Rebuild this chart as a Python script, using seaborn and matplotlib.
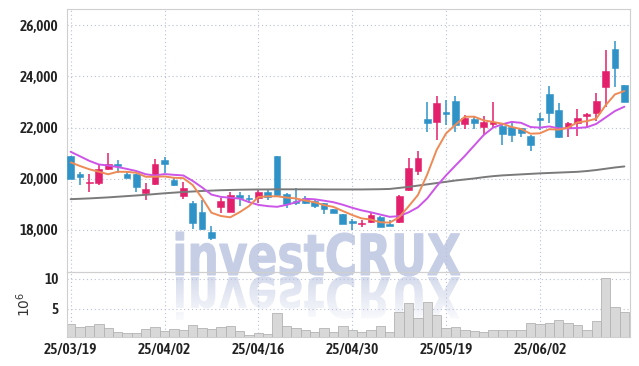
import numpy as np
import pandas as pd
import matplotlib
matplotlib.use("Agg")
import matplotlib.pyplot as plt
import seaborn as sns
from matplotlib import font_manager
from matplotlib.textpath import TextPath
from matplotlib.patches import PathPatch
from matplotlib.font_manager import FontProperties
from matplotlib.transforms import Affine2D
from matplotlib.colors import to_rgb
from matplotlib.ticker import FuncFormatter

# ---- data ----
tick_pos = [0, 10, 20, 30, 40, 50]
tick_labels = ["25/03/19", "25/04/02", "25/04/16", "25/04/30", "25/05/19", "25/06/02"]

open_ = [20880, 20180, 19850, 19850, 20370, 20570, 20200, 20180, 19430, 19780,
         20730, 19950, 19320, 19040, 18710, 17920, 18900, 18710, 19360, 19240,
         19250, 19480, 20880, 19400, 19140, 19230, 19140, 19040, 18800, 18620,
         18340, 18240, 18320, 18490, 18230, 18320, 19540, 20310, 22320, 22230,
         22610, 23050, 22130, 22320, 22010, 22130, 22060, 22010, 21970, 21670,
         22360, 23310, 22690, 21970, 22170, 22450, 22560, 23580, 25070, 23670]
high = [20900, 20280, 20170, 20530, 21020, 20730, 20320, 20200, 19840, 20760,
        20840, 20080, 19880, 19130, 19170, 18150, 19230, 19490, 19490, 19360,
        19560, 19580, 20900, 19440, 19620, 19320, 19200, 19060, 18820, 18630,
        18410, 18380, 18670, 18560, 18380, 19360, 20800, 21100, 23010, 23240,
        23080, 23240, 22490, 22460, 22460, 23010, 22100, 22170, 22000, 21700,
        22560, 23630, 22950, 22230, 22710, 22580, 23370, 25050, 25400, 23680]
low = [19990, 19750, 19470, 19750, 20360, 20210, 20020, 19490, 19170, 19760,
       20210, 19700, 19190, 18020, 17990, 17600, 18650, 18680, 18930, 19060,
       19040, 19180, 19340, 18840, 18970, 19000, 18840, 18610, 18640, 18220,
       17990, 18120, 18250, 18100, 18140, 18280, 19500, 20150, 21820, 21520,
       22100, 21840, 21930, 21930, 21710, 21970, 21320, 21450, 21620, 21080,
       21900, 22190, 21580, 21640, 21670, 22040, 22270, 22820, 23590, 23000]
close = [20000, 20060, 19870, 20370, 20570, 20500, 20030, 19690, 19590, 20575,
         20560, 19770, 19620, 18250, 18020, 17690, 19130, 19360, 19240, 19220,
         19470, 19270, 19360, 19000, 19040, 19060, 18930, 18810, 18650, 18230,
         18280, 18270, 18580, 18120, 18160, 19320, 20400, 20800, 22170, 22950,
         22540, 22100, 22360, 22190, 22230, 22230, 21750, 21710, 21800, 21320,
         22300, 22560, 21620, 22190, 22360, 22530, 23050, 24230, 24330, 23010]
# closes before the first visible day (estimated from where the averages start)
prev_close = [21830, 21670, 21770, 20970, 21100, 20775, 20515, 20840, 21070]

ma_long = [19200, 19215, 19230, 19250, 19270, 19295, 19320, 19345, 19370, 19400,
           19430, 19455, 19480, 19500, 19520, 19535, 19550, 19560, 19570, 19575,
           19580, 19580, 19585, 19585, 19585, 19585, 19585, 19580, 19580, 19580,
           19580, 19580, 19585, 19590, 19600, 19640, 19680, 19730, 19780, 19830,
           19880, 19930, 19970, 20010, 20060, 20100, 20130, 20150, 20170, 20190,
           20210, 20225, 20240, 20255, 20270, 20300, 20340, 20390, 20440, 20480]

volume = [2.55, 2.0, 2.17, 2.55, 1.83, 1.22, 1.0, 1.0, 1.67, 2.0,
          1.33, 1.67, 1.55, 2.33, 1.83, 1.67, 2.0, 2.17, 1.33, 0.67,
          1.0, 0.83, 4.33, 2.17, 1.83, 1.5, 1.22, 1.83, 1.22, 2.17,
          1.5, 1.22, 1.5, 2.17, 1.22, 4.5, 6.0, 3.5, 6.17, 4.05,
          1.83, 2.0, 1.5, 1.33, 1.17, 1.5, 1.5, 1.5, 1.5, 2.67,
          2.5, 2.67, 3.17, 2.67, 2.33, 1.5, 3.0, 10.17, 5.33, 4.5]

df = pd.DataFrame({"open": open_, "high": high, "low": low, "close": close,
                   "volume": volume, "ma_long": ma_long})
df["idx"] = np.arange(len(df))
all_close = pd.Series(prev_close + close)
df["ma5"] = all_close.rolling(5).mean().iloc[len(prev_close):].values
df["ma10"] = all_close.rolling(10).mean().iloc[len(prev_close):].values

RED = "#e3206b"
BLUE = "#2f93c8"
WM = "#c6cee6"
W, H = 639, 366

sns.set_theme(style="white")
plt.rcParams["font.family"] = ["Roboto", "DejaVu Sans"]

# the reference labels use a narrow, heavy face: take a condensed one if there is one
narrow = [f for f in font_manager.fontManager.ttflist
          if ("ondensed" in str(f.stretch) or "Narrow" in f.name or "Condensed" in f.name)
          and not str(f.style).startswith(("italic", "oblique"))]
narrow.sort(key=lambda f: abs((f.weight if isinstance(f.weight, int) else 600) - 600))
if narrow:
    tick_fp = FontProperties(fname=narrow[0].fname, size=11)
else:
    tick_fp = FontProperties(family="Roboto", weight="medium", size=10.5)

fig = plt.figure(figsize=(W / 100, H / 100), dpi=100)

# watermark layer in pixel units, behind the chart
axw = fig.add_axes([0, 0, 1, 1], zorder=-1)
axw.axis("off")


def text_path(text, x0, x1, base, top, flip=False):
    prop = FontProperties(family="DejaVu Sans", weight="bold")
    tp = TextPath((0, 0), text, size=1, prop=prop)
    ext = tp.get_extents()
    sx = (x1 - x0) / ext.width
    sy = (base - top) / ext.ymax
    if flip:
        sy = -sy
    tr = Affine2D().translate(-ext.xmin, 0).scale(sx, sy).translate(x0, H - base)
    return tr.transform_path(tp)


wm_x0, wm_x1, wm_base, wm_top = 176, 460, 275, 232
axw.add_patch(PathPatch(text_path("investCRUX", wm_x0, wm_x1, wm_base, wm_top),
                        facecolor=WM, edgecolor=WM, lw=0.8))
# mirrored reflection fading downwards
refl = PathPatch(text_path("investCRUX", wm_x0, wm_x1, wm_base + 2, wm_top + 2, flip=True),
                 facecolor="none", lw=0)
axw.add_patch(refl)
grad = np.zeros((64, 2, 4))
grad[..., :3] = to_rgb(WM)
grad[..., 3] = np.linspace(0.75, 0.05, 64)[:, None]
img = axw.imshow(grad, extent=(wm_x0, wm_x1, H - wm_base - 48, H - wm_base),
                 origin="upper", aspect="auto", interpolation="bilinear")
img.set_clip_path(refl)
axw.set_xlim(0, W)
axw.set_ylim(0, H)

ax = fig.add_axes([0.1044, 0.2568, 0.8815, 0.7186])
axv = fig.add_axes([0.1044, 0.0779, 0.8815, 0.1789], sharex=ax)
for a in (ax, axv):
    a.set_facecolor("none")

# candles
up = df["close"] >= df["open"]
colors = np.where(up, RED, BLUE)
body_lo = np.minimum(df["open"], df["close"])
body_h = np.maximum(np.abs(df["close"] - df["open"]), 25)
ax.vlines(df["idx"], df["low"], df["high"], colors=colors, lw=1.1, zorder=2)
ax.bar(df["idx"], body_h, bottom=body_lo, width=0.72, color=colors,
       edgecolor=colors, lw=0.4, zorder=3)

sns.lineplot(data=df, x="idx", y="ma_long", ax=ax, color="#7a7a7a", lw=1.4, zorder=4)
sns.lineplot(data=df, x="idx", y="ma10", ax=ax, color="#cc55e8", lw=1.4, zorder=4)
sns.lineplot(data=df, x="idx", y="ma5", ax=ax, color="#ee8a55", lw=1.4, zorder=5)

ax.set_xlim(-0.42, 59.6)
ax.set_ylim(16350, 26640)
ax.set_yticks([18000, 20000, 22000, 24000, 26000])
ax.yaxis.set_major_formatter(FuncFormatter(lambda v, p: f"{int(v):,}"))
ax.set_xlabel("")
ax.set_ylabel("")
ax.tick_params(axis="x", labelbottom=False, length=0)
ax.tick_params(axis="y", length=0, pad=6, labelcolor="#222222")

# volume
axv.bar(df["idx"], df["volume"], width=1.0, color="#d8d8d8", edgecolor="#b3b3b3",
        lw=0.6, zorder=2)
axv.set_ylim(0.3, 11.1)
axv.set_yticks([5, 10])
axv.set_xticks(tick_pos)
axv.set_xticklabels(tick_labels)
axv.tick_params(axis="y", length=0, pad=6, labelcolor="#222222")
axv.tick_params(axis="x", length=0, pad=4, labelcolor="#222222")
axv.set_ylabel(r"$10^6$", fontsize=10, color="#333333", labelpad=8)

for lab in ax.get_yticklabels() + axv.get_yticklabels() + axv.get_xticklabels():
    lab.set_fontproperties(tick_fp)

for a in (ax, axv):
    a.grid(True, ls=(0, (1, 2.5)), color="#b9c0d8", lw=0.8, zorder=0)
    for s in a.spines.values():
        s.set_color("#cfcfcf")
        s.set_linewidth(0.8)

fig.savefig("out.png", dpi=100, facecolor="white")
